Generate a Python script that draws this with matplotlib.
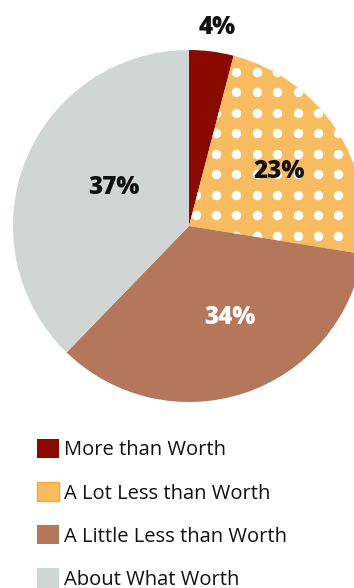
import numpy as np
import matplotlib
matplotlib.use("Agg")
import matplotlib.pyplot as plt
from matplotlib.patches import Patch

plt.rcParams["font.family"] = ["Open Sans", "DejaVu Sans"]

categories = ["More than Worth", "A Lot Less than Worth",
              "A Little Less than Worth", "About What Worth"]
shares = [4, 23, 34, 37]
colors = ["#8B0A00", "#F7BC60", "#B5775C", "#CFD6D4"]
label_colors = ["#111111", "#111111", "#ffffff", "#111111"]
# label anchor points (pixels from top-left)
label_xy = [(217, 28), (279, 171), (230, 317), (114, 187)]

W, H = 354, 588
fig = plt.figure(figsize=(W / 100, H / 100), dpi=100)
ax = fig.add_axes([0, 0, 1, 1])

cx, cy, r = 189, H - 226, 176
wedges, _ = ax.pie(shares, colors=colors, startangle=90, counterclock=False,
                   center=(cx, cy), radius=r, frame=True,
                   wedgeprops=dict(linewidth=0))
ax.set_xlim(0, W)
ax.set_ylim(0, H)
ax.set_aspect("equal")
ax.axis("off")

# white dot pattern on the "A Lot Less" slice
gx, gy = np.meshgrid(np.arange(216 - 20.4 * 3, W + 10, 20.4),
                     H - np.arange(71.7, 260, 20.5))
dots = ax.scatter(gx.ravel(), gy.ravel(), s=46, color="white", linewidths=0,
                  zorder=3)
dots.set_clip_path(wedges[1])

for (px, py), val, c in zip(label_xy, shares, label_colors):
    ax.text(px, H - py, f"{val}%", ha="center", va="center", fontsize=17.5,
            fontweight="heavy", color=c, zorder=4)

handles = [Patch(facecolor=colors[0]),
           Patch(facecolor=colors[1], edgecolor="#F5A833", linewidth=1),
           Patch(facecolor=colors[2]),
           Patch(facecolor=colors[3])]
ax.legend(handles, categories, loc="upper left",
          bbox_to_anchor=(29 / W, 1 - 431 / H), frameon=False,
          fontsize=14.5, handlelength=1.08, handleheight=1.08,
          handletextpad=0.25, labelspacing=1.08, borderaxespad=0,
          labelcolor="#111111")

fig.savefig("out.png", dpi=100)
plt.close(fig)
